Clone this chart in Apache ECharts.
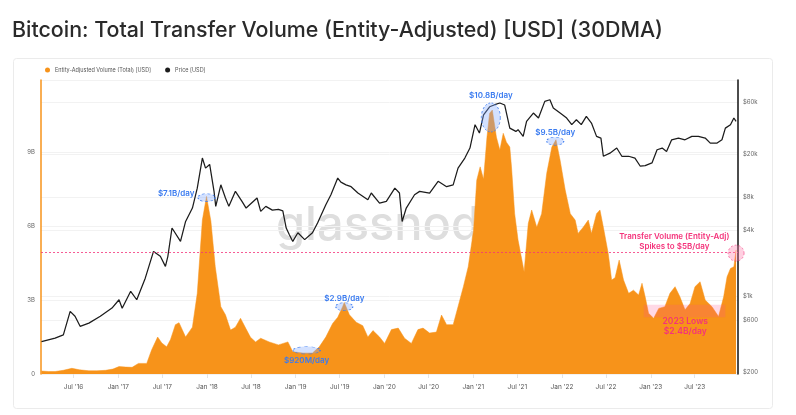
<!DOCTYPE html>
<html><head><meta charset="utf-8">
<script src="https://cdn.jsdelivr.net/npm/echarts@6/dist/echarts.min.js"></script>
<style>html,body{margin:0;padding:0;background:#fff}#c{width:796px;height:415px}</style>
</head><body><div id="c"></div>
<script>
const titleText = 'Bitcoin: Total Transfer Volume (Entity-Adjusted) [USD] (30DMA)';
const seriesNames = ['Entity-Adjusted Volume (Total) [USD]', 'Price [USD]'];

// Entity-adjusted transfer volume, 30DMA, billions USD
const volDates = ['2016-02-20','2016-03-20','2016-04-16','2016-05-20','2016-06-24','2016-07-25','2016-09-02','2016-10-05','2016-11-10','2016-12-10',
'2017-01-04','2017-02-01','2017-02-27','2017-03-25','2017-04-28','2017-05-18','2017-06-12','2017-06-29','2017-07-19','2017-08-04','2017-08-24','2017-09-08','2017-10-05','2017-11-02','2017-11-22','2017-12-13','2017-12-30',
'2018-01-17','2018-02-04','2018-02-27','2018-03-18','2018-04-08','2018-04-28','2018-05-19','2018-06-09','2018-06-29','2018-07-20','2018-08-10','2018-09-14','2018-10-22','2018-11-30','2018-12-20',
'2019-01-31','2019-03-11','2019-04-08','2019-05-05','2019-06-02','2019-06-23','2019-07-13','2019-07-20','2019-08-10','2019-09-07','2019-10-04','2019-10-25','2019-11-15','2019-12-12',
'2020-01-02','2020-01-30','2020-02-27','2020-03-24','2020-04-21','2020-05-18','2020-06-08','2020-07-05','2020-08-02','2020-08-23','2020-09-13','2020-10-10','2020-10-30','2020-11-21','2020-12-11',
'2021-01-02','2021-01-15','2021-01-29','2021-02-12','2021-02-26','2021-03-09','2021-03-20','2021-04-06','2021-04-20','2021-05-04','2021-05-17','2021-05-31','2021-06-07','2021-06-20','2021-07-04','2021-07-29','2021-08-15','2021-08-29','2021-09-19','2021-10-09','2021-10-30','2021-11-20','2021-12-07','2021-12-24',
'2022-01-14','2022-02-04','2022-02-24','2022-03-08','2022-03-29','2022-04-19','2022-05-02','2022-05-23','2022-06-06','2022-06-20','2022-07-10','2022-07-24','2022-08-07','2022-08-24','2022-09-11','2022-10-02','2022-10-22','2022-11-12','2022-11-26','2022-12-09','2022-12-23',
'2023-01-13','2023-02-03','2023-02-28','2023-03-21','2023-04-11','2023-05-01','2023-05-22','2023-06-12','2023-07-02','2023-07-23','2023-08-13','2023-09-10','2023-10-07','2023-10-28','2023-11-11','2023-11-25','2023-12-09','2023-12-18'];
const volValues = [0.12,0.1,0.1,0.15,0.23,0.17,0.13,0.13,0.15,0.2,
0.3,0.28,0.27,0.43,0.43,0.97,1.5,1.26,1.1,1.4,2.0,2.08,1.5,1.9,3.27,6.24,7.2,
6.2,4.35,2.73,2.4,1.78,1.9,2.26,1.86,1.49,1.3,1.45,1.3,1.18,1.3,0.9,
0.85,0.85,1.1,1.5,2.05,2.3,2.73,2.9,2.4,2.1,1.96,1.5,1.76,1.5,
1.24,1.8,1.86,1.45,1.24,1.8,1.86,1.66,1.7,2.39,2.0,2.0,2.73,3.54,4.35,
5.84,7.86,8.4,7.9,9.6,10.57,10.7,9.6,9.08,9.76,9.4,9.2,8.4,6.5,5.43,4.15,6.1,6.65,5.95,6.5,8.14,9.2,9.5,8.67,
7.46,6.5,6.24,5.7,5.95,6.24,5.7,6.5,6.65,5.95,4.89,3.81,3.9,4.62,3.81,3.27,3.4,3.2,3.68,3.13,2.46,
2.26,2.66,2.73,3.27,3.54,3.13,2.6,2.86,3.54,3.74,3.0,2.73,2.33,3.13,3.94,4.28,4.35,5.03];

// BTC price, USD
const priceDates = ['2016-02-20','2016-04-16','2016-05-20','2016-06-17','2016-07-07','2016-07-28','2016-09-02','2016-10-19','2016-12-06',
'2017-01-04','2017-01-17','2017-02-21','2017-03-18','2017-04-22','2017-05-26','2017-06-23','2017-07-14','2017-07-24','2017-08-10','2017-09-14','2017-10-05','2017-11-02','2017-11-22','2017-12-13','2017-12-26',
'2018-01-12','2018-01-30','2018-02-06','2018-02-27','2018-03-18','2018-04-01','2018-04-28','2018-05-25','2018-06-11','2018-07-26','2018-08-10','2018-08-31','2018-09-27','2018-10-22','2018-11-09','2018-11-23','2018-12-06','2018-12-20',
'2019-01-10','2019-02-07','2019-03-11','2019-04-01','2019-05-05','2019-05-26','2019-06-23','2019-07-06','2019-07-27','2019-08-17','2019-09-14','2019-10-25','2019-11-08','2019-12-12',
'2020-01-09','2020-02-13','2020-03-03','2020-03-14','2020-03-31','2020-05-04','2020-05-25','2020-07-05','2020-08-09','2020-09-13','2020-10-10','2020-10-30','2020-11-27','2020-12-18',
'2021-01-08','2021-01-26','2021-02-12','2021-03-09','2021-03-30','2021-04-20','2021-05-10','2021-05-31','2021-06-07','2021-06-25','2021-07-04','2021-07-25','2021-08-08','2021-09-05','2021-09-26','2021-10-22','2021-11-12','2021-11-26','2021-12-24',
'2022-01-20','2022-02-10','2022-03-01','2022-03-21','2022-04-11','2022-05-02','2022-05-23','2022-06-10','2022-06-20','2022-07-17','2022-08-14','2022-09-04','2022-10-02','2022-10-28','2022-11-19','2022-12-09',
'2023-01-06','2023-01-27','2023-02-17','2023-03-07','2023-03-28','2023-04-25','2023-05-22','2023-06-19','2023-07-16','2023-08-13','2023-09-03','2023-10-01','2023-10-21','2023-11-04','2023-11-25','2023-12-09','2023-12-18'];
const priceValues = [380,410,438,720,650,525,562,650,772,
920,770,1100,920,1450,2550,2300,1860,2300,4180,3150,4800,6370,9700,18300,14800,
16000,9060,6600,10400,7870,6600,9060,7340,6370,7870,5940,6600,6100,6200,6000,4180,3620,3150,
3780,3270,3780,4640,6830,8430,12000,11000,10400,10000,8750,7580,8750,7080,
7340,9700,8750,4800,6370,8430,9060,8750,11200,10000,10400,14800,18300,22600,
37000,31000,45600,54000,56400,58500,56000,34400,35700,32100,33300,28900,39700,47300,42600,60500,62600,52600,47300,
42600,37000,41100,37000,44100,38300,28900,27900,19000,20300,22600,19000,19000,18300,15400,15600,
16500,21800,22600,21000,26900,27900,26900,28900,28900,27900,25100,25100,26900,34400,37000,42600,39700];

const xTickDates = ['2016-07-01','2017-01-01','2017-07-01','2018-01-01','2018-07-01','2019-01-01','2019-07-01','2020-01-01','2020-07-01','2021-01-01','2021-07-01','2022-01-01','2022-07-01','2023-01-01','2023-07-01'];
const monthNames = ['Jan','Feb','Mar','Apr','May','Jun','Jul','Aug','Sep','Oct','Nov','Dec'];
const rightTicks = [200, 600, 1000, 4000, 8000, 20000, 60000];
const rightTickLabels = ['$200','$600','$1k','$4k','$8k','$20k','$60k'];

// Annotations (date, value in B)
const peakDates = ['2017-12-30','2021-03-14','2021-12-04','2019-07-20','2019-02-15'];
const peakValues = [7.15, 10.4, 9.44, 2.73, 0.96];
const peakLabels = ['$7.1B/day','$10.8B/day','$9.5B/day','$2.9B/day','$920M/day'];
const spikeLevel = 4.95;
const spikeDate = '2023-12-18';
const spikeValue = 4.9;
const spikeText = ['Transfer Volume (Entity-Adj)', 'Spikes to $5B/day'];
const spikeTextAt = ['2023-04-08', 5.36];
const lowsRange = [['2022-12-03', 2.81], ['2023-11-04', 2.3]];
const lowsText = ['2023 Lows', '$2.4B/day'];
const lowsTextAt = ['2023-05-23', 1.92];

const ORANGE = '#f7931a';
const BLUE = '#3a7bf0';
const PINK = '#f4327a';
const FONT = 'Inter, "Noto Sans", sans-serif';
const HALF_YEAR = 182.5 * 86400000;

const peakStyle = [
  {size:[17,8], pos:'left', dist:3, off:[0,-4]},
  {size:[19,29], pos:'top', dist:3, off:[0,0]},
  {size:[17,8], pos:'top', dist:0, off:[0,0]},
  {size:[17,8], pos:'top', dist:0, off:[0,0]},
  {size:[27,7.5], pos:'bottom', dist:2, off:[0,0]}
];

const volData = volDates.map((d, i) => [d, volValues[i]]);
const priceData = priceDates.map((d, i) => [d, priceValues[i]]);

const peakPoints = peakDates.map((d, i) => ({
  coord: [d, peakValues[i]],
  symbol: 'circle',
  symbolSize: peakStyle[i].size,
  itemStyle: {color: 'rgba(130,170,255,0.35)', borderColor: BLUE, borderWidth: 0.8, borderType: [2, 2]},
  label: {show: true, formatter: peakLabels[i], position: peakStyle[i].pos, distance: peakStyle[i].dist, offset: peakStyle[i].off,
    color: BLUE, fontSize: 8, fontWeight: 600, fontFamily: FONT}
}));

const chart = echarts.init(document.getElementById('c'), null, {renderer: 'canvas'});
chart.setOption({
  animation: false,
  backgroundColor: '#fff',
  title: {text: titleText, left: 7, top: 15, textStyle: {fontSize: 21.4, fontWeight: 500, color: '#2a2a2a', fontFamily: FONT}},
  graphic: [
    {type: 'rect', z: -10, shape: {x: 13.5, y: 58.5, width: 759, height: 350, r: 3}, style: {fill: 'none', stroke: '#ebebeb', lineWidth: 1}},
    {type: 'text', z: -5, left: 276, top: 202, style: {text: 'glassnode', fontSize: 47, fontWeight: 500, fill: '#dedede', fontFamily: FONT}}
  ],
  legend: {
    left: 40, top: 62, itemWidth: 5, itemHeight: 5, itemGap: 14, icon: 'circle',
    textStyle: {fontSize: 5.5, color: '#555', fontFamily: FONT},
    data: seriesNames
  },
  grid: {left: 41, right: 58, top: 80, bottom: 41, containLabel: false},
  xAxis: {
    type: 'time', min: '2016-02-18', max: '2023-12-26',
    minInterval: HALF_YEAR, maxInterval: HALF_YEAR,
    axisLine: {show: false},
    axisTick: {show: true, length: 4, lineStyle: {color: '#e4e4e4'}},
    splitLine: {show: false},
    axisLabel: {margin: 10, fontSize: 6.5, color: '#555', fontFamily: FONT, hideOverlap: false,
      formatter: v => { const d = new Date(v); const s = monthNames[d.getMonth()] + " '" + String(d.getFullYear()).slice(2);
        return xTickDates.some(t => { const td = new Date(t + 'T00:00:00'); return td.getFullYear() === d.getFullYear() && td.getMonth() === d.getMonth(); }) ? s : ''; }}
  },
  yAxis: [
    {type: 'value', position: 'left', min: 0, max: 11.92, interval: 3,
      axisLine: {show: true, lineStyle: {color: ORANGE, width: 1.5}},
      axisTick: {show: false},
      splitLine: {show: true, lineStyle: {color: '#f2f2f2', width: 1}},
      axisLabel: {fontSize: 6, color: '#666', margin: 6, fontFamily: FONT, showMaxLabel: false, formatter: v => v === 0 ? '0' : v + 'B'}},
    {type: 'log', position: 'right', min: 192, max: 95000,
      axisLine: {show: true, lineStyle: {color: '#111', width: 1.5}},
      axisTick: {show: false, customValues: rightTicks},
      splitLine: {show: true, lineStyle: {color: '#f2f2f2', width: 1}},
      axisLabel: {customValues: rightTicks, fontSize: 6, color: '#666', margin: 5, fontFamily: FONT,
        formatter: v => rightTickLabels[rightTicks.indexOf(Math.round(v))] || ''}}
  ],
  series: [
    {
      name: seriesNames[0], type: 'line', yAxisIndex: 0, data: volData, symbol: 'none', z: 2,
      lineStyle: {width: 0.5, color: ORANGE}, itemStyle: {color: ORANGE},
      areaStyle: {color: ORANGE, opacity: 1},
      markLine: {silent: true, symbol: 'none', label: {show: false}, z: 4,
        lineStyle: {color: PINK, type: [2, 2], width: 0.8},
        data: [{yAxis: spikeLevel}]},
      markArea: {silent: true, z: 3, itemStyle: {color: 'rgba(255,80,140,0.22)'},
        data: [[{xAxis: lowsRange[0][0], yAxis: lowsRange[0][1]}, {xAxis: lowsRange[1][0], yAxis: lowsRange[1][1]}]]},
      markPoint: {silent: true, z: 6, data: peakPoints.concat([
        {coord: [spikeDate, spikeValue], symbol: 'circle', symbolSize: 16,
          itemStyle: {color: 'rgba(255,120,170,0.35)', borderColor: PINK, borderWidth: 0.6, borderType: [2, 2]}, label: {show: false}},
        {coord: spikeTextAt, symbol: 'circle', symbolSize: 0,
          label: {show: true, position: 'inside', formatter: spikeText.join('\n'), color: PINK, fontSize: 8, fontWeight: 600, lineHeight: 10, align: 'center', fontFamily: FONT}},
        {coord: lowsTextAt, symbol: 'circle', symbolSize: 0,
          label: {show: true, position: 'inside', formatter: lowsText.join('\n'), color: PINK, fontSize: 8.5, fontWeight: 600, lineHeight: 10, align: 'center', fontFamily: FONT}}
      ])}
    },
    {
      name: seriesNames[1], type: 'line', yAxisIndex: 1, data: priceData, symbol: 'none', z: 3,
      lineStyle: {width: 1.25, color: '#1c1c1c'}, itemStyle: {color: '#1c1c1c'}
    }
  ]
});
</script></body></html>
